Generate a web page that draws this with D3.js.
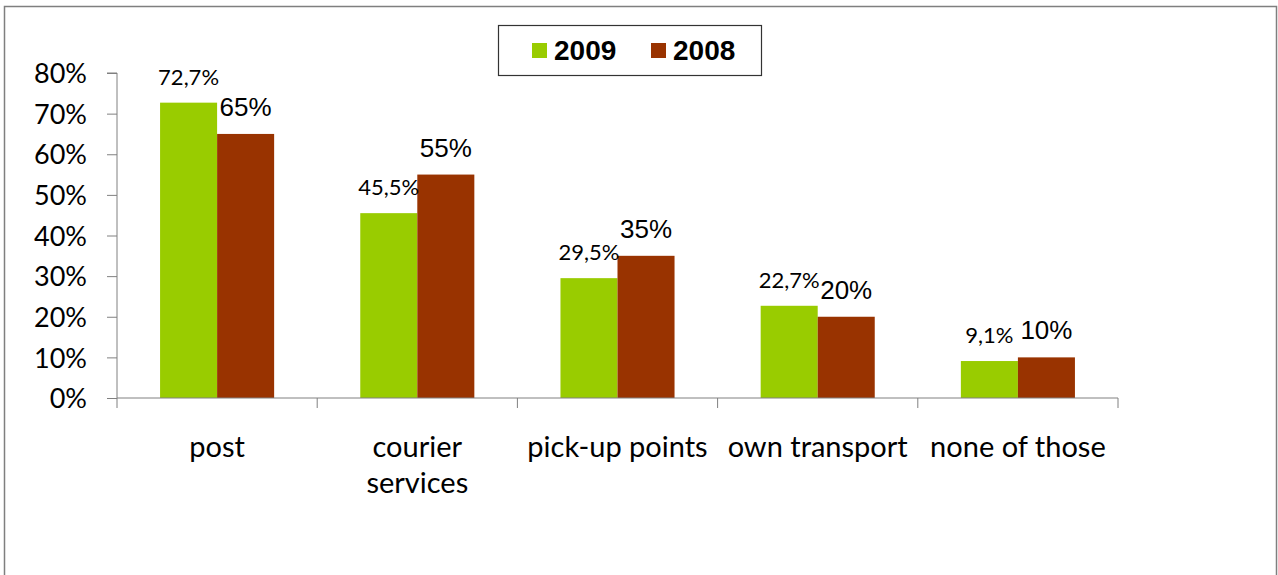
<!DOCTYPE html>
<html>
<head>
<meta charset="utf-8">
<script src="https://cdn.jsdelivr.net/npm/d3@7"></script>
<style>
  body { margin: 0; background: #ffffff; }
  svg { display: block; }
</style>
</head>
<body>
<div id="chart"></div>
<script>
var categories = ["post", "courier services", "pick-up points", "own transport", "none of those"];
var seriesNames = ["2009", "2008"];
var values2009 = [72.7, 45.5, 29.5, 22.7, 9.1];
var values2008 = [65, 55, 35, 20, 10];
var labels2009 = ["72,7%", "45,5%", "29,5%", "22,7%", "9,1%"];
var labels2008 = ["65%", "55%", "35%", "20%", "10%"];
var yTicks = [0, 10, 20, 30, 40, 50, 60, 70, 80];

var COLORS = {"2009": "#99cc00", "2008": "#993300"};
var GILL = "'Gill Sans', 'Gill Sans MT', Lato, sans-serif";
var ARIAL = "'Liberation Sans', Arial, sans-serif";

var width = 1278, height = 575;
var margin = {top: 73, left: 117, right: 160, bottom: 177};

var svg = d3.select("#chart").append("svg")
    .attr("width", width)
    .attr("height", height);

// outer frame
svg.append("rect")
    .attr("x", 4.5).attr("y", 6.5)
    .attr("width", 1272).attr("height", 580)
    .attr("fill", "none").attr("stroke", "#7f7f7f").attr("stroke-width", 1.5);

var x0 = d3.scaleBand()
    .domain(categories)
    .range([margin.left, width - margin.right]);

var x1 = d3.scaleBand()
    .domain(seriesNames)
    .range([0, x0.bandwidth()])
    .paddingOuter(0.755)
    .paddingInner(0);

var y = d3.scaleLinear()
    .domain([0, 80])
    .range([height - margin.bottom, margin.top]);

var rows = categories.map(function(c, i) {
    return {
        cat: c,
        bars: [
            {key: "2009", value: values2009[i], label: labels2009[i]},
            {key: "2008", value: values2008[i], label: labels2008[i]}
        ]
    };
});

// bars
var groups = svg.selectAll("g.cat")
    .data(rows)
    .enter().append("g")
    .attr("class", "cat")
    .attr("transform", function(d) { return "translate(" + x0(d.cat) + ",0)"; });

groups.selectAll("rect")
    .data(function(d) { return d.bars; })
    .enter().append("rect")
    .attr("x", function(d) { return x1(d.key); })
    .attr("y", function(d) { return y(d.value); })
    .attr("width", x1.bandwidth())
    .attr("height", function(d) { return y(0) - y(d.value); })
    .attr("fill", function(d) { return COLORS[d.key]; });

// value labels
groups.selectAll("text.val")
    .data(function(d) { return d.bars; })
    .enter().append("text")
    .attr("class", "val")
    .attr("x", function(d) { return x1(d.key) + x1.bandwidth() / 2; })
    .attr("y", function(d) { return y(d.value) - 18; })
    .attr("text-anchor", "middle")
    .style("font-family", function(d) { return d.key == "2009" ? GILL : ARIAL; })
    .style("font-size", function(d) { return d.key == "2009" ? "22px" : "26px"; })
    .attr("fill", "#000")
    .text(function(d) { return d.label; });

// y axis
var yAxis = d3.axisLeft(y)
    .tickValues(yTicks)
    .tickSize(10)
    .tickPadding(20)
    .tickFormat(function(d) { return d + "%"; });

var gy = svg.append("g")
    .attr("transform", "translate(" + margin.left + ",0)")
    .call(yAxis);
gy.select(".domain").attr("stroke", "#808080").attr("d", "M-10," + y(80) + "H0V" + y(0));
gy.selectAll(".tick line").attr("stroke", "#808080");
gy.selectAll(".tick text")
    .style("font-family", GILL)
    .style("font-size", "27px")
    .attr("fill", "#000")
    .attr("dy", "0.36em");

// x axis: baseline plus ticks at category boundaries
var xEdges = categories.map(function(c) { return x0(c); }).concat([x0.range()[1]]);
svg.append("line")
    .attr("x1", margin.left).attr("x2", x0.range()[1])
    .attr("y1", y(0)).attr("y2", y(0))
    .attr("stroke", "#808080");
svg.selectAll("line.xtick")
    .data(xEdges)
    .enter().append("line")
    .attr("class", "xtick")
    .attr("x1", function(d) { return d; }).attr("x2", function(d) { return d; })
    .attr("y1", y(0)).attr("y2", y(0) + 10)
    .attr("stroke", "#808080");

// category labels (wrap "courier services")
var catLines = {
    "post": ["post"],
    "courier services": ["courier", "services"],
    "pick-up points": ["pick-up points"],
    "own transport": ["own transport"],
    "none of those": ["none of those"]
};
svg.selectAll("text.cat")
    .data(categories)
    .enter().append("text")
    .attr("class", "cat")
    .attr("x", function(d) { return x0(d) + x0.bandwidth() / 2; })
    .attr("y", 457)
    .attr("text-anchor", "middle")
    .style("font-family", GILL)
    .style("font-size", "29px")
    .attr("fill", "#000")
    .each(function(d) {
        var t = d3.select(this);
        catLines[d].forEach(function(line, i) {
            t.append("tspan")
                .attr("x", x0(d) + x0.bandwidth() / 2)
                .attr("dy", i == 0 ? 0 : 36)
                .text(line);
        });
    });

// legend
var legend = svg.append("g").attr("transform", "translate(498,25)");
legend.append("rect")
    .attr("x", 0.5).attr("y", 0.5)
    .attr("width", 263).attr("height", 50)
    .attr("fill", "#fff").attr("stroke", "#333").attr("stroke-width", 1.2);
var legendPos = {"2009": 34, "2008": 153};
seriesNames.forEach(function(s) {
    legend.append("rect")
        .attr("x", legendPos[s]).attr("y", 18)
        .attr("width", 15).attr("height", 15)
        .attr("fill", COLORS[s]);
    legend.append("text")
        .attr("x", legendPos[s] + 22).attr("y", 35)
        .style("font-family", ARIAL)
        .style("font-weight", "bold")
        .style("font-size", "28px")
        .attr("fill", "#000")
        .text(s);
});
</script>
</body>
</html>
